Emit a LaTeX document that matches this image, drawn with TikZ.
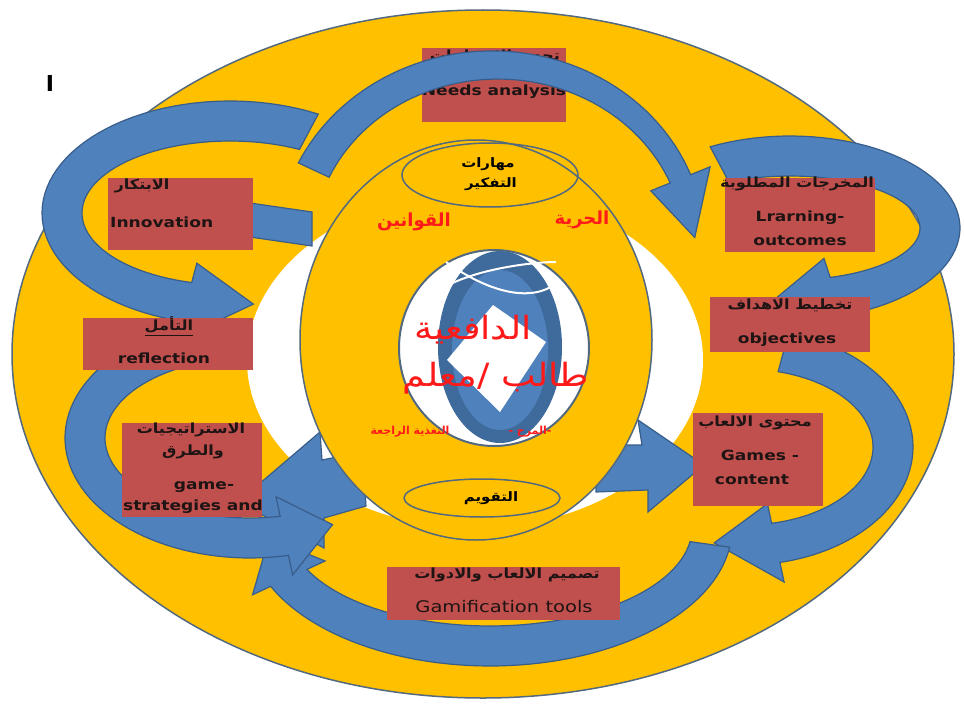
\documentclass[tikz,border=0pt]{standalone}
\usepackage{fontspec}
\setmainfont{DejaVu Sans}
\newfontfamily\ar[Script=Arabic]{DejaVu Sans}
\newfontfamily\arw[Script=Arabic,FakeStretch=1.15]{DejaVu Sans}
\newfontfamily\enw[FakeStretch=1.22]{DejaVu Sans}
\TeXXeTstate=1
\definecolor{yel}{HTML}{FFC000}
\definecolor{blu}{HTML}{4F81BD}
\definecolor{bld}{HTML}{385D8A}
\definecolor{knot}{HTML}{3F6A9C}
\definecolor{boxr}{HTML}{C0504D}
\definecolor{edge}{HTML}{53697F}
\definecolor{txt}{HTML}{1E1414}
\definecolor{redt}{HTML}{FF1A1A}
\def\hws{20}\def\hwe{20}\def\hh{40}
% cx cy rx ry t1 t2 tip ; half widths \hws (tail) \hwe (neck), head half width \hh
\newcommand{\bandarrow}[7]{%
 \filldraw[arr] plot[domain=#5:#6,samples=60] ({#1+(#3+\hws+(\hwe-\hws)*(\x-(#5))/((#6)-(#5)))*cos(\x)},{#2+(#4+\hws+(\hwe-\hws)*(\x-(#5))/((#6)-(#5)))*sin(\x)})
 -- ({#1+(#3+\hh)*cos(#6)},{#2+(#4+\hh)*sin(#6)})
 -- ({#1+#3*cos(#7)},{#2+#4*sin(#7)})
 -- ({#1+(#3-\hh)*cos(#6)},{#2+(#4-\hh)*sin(#6)})
 -- plot[domain=#6:#5,samples=60] ({#1+(#3-\hws-(\hwe-\hws)*(\x-(#5))/((#6)-(#5)))*cos(\x)},{#2+(#4-\hws-(\hwe-\hws)*(\x-(#5))/((#6)-(#5)))*sin(\x)}) -- cycle;}
\tikzset{
 arr/.style={fill=blu, draw=bld, line width=1.2pt},
 box/.style={fill=boxr, draw=none, inner sep=0pt, anchor=north west},
 en/.style={font=\enw\bfseries\fontsize{14}{16}\selectfont, text=txt, inner sep=0pt},
 art/.style={font=\arw\bfseries\fontsize{14}{16}\selectfont, text=txt, inner sep=0pt},
 redbig/.style={font=\arw\fontsize{32}{34}\selectfont, text=redt, inner sep=0pt},
 redmid/.style={font=\ar\bfseries\fontsize{18}{20}\selectfont, text=redt, inner sep=0pt},
 redsm/.style={font=\ar\bfseries\fontsize{11}{13}\selectfont, text=redt, inner sep=0pt},
 blk/.style={font=\arw\bfseries\fontsize{13}{15}\selectfont, text=black, inner sep=0pt},
}
\begin{document}
\begin{tikzpicture}[x=1pt,y=-1pt]
\useasboundingbox (0,0) rectangle (964,709);
\fill[white] (0,0) rectangle (964,709);
% outer ellipse
\filldraw[fill=yel, draw=edge, line width=1.5pt] (483,354) ellipse [x radius=471, y radius=344];
% white ring
\fill[white] (475,360) ellipse [x radius=228, y radius=168];
% inner arrows
\filldraw[arr] (250,203) -- (312,212) -- (312,246) -- (250,237) -- cycle;
\filldraw[arr] (362,452) -- (322,460) -- (320,432) -- (238,502) -- (324,548) -- (324,518) -- (366,506) -- cycle;
\filldraw[arr] (596,445) -- (642,445) -- (638,420) -- (704,465) -- (648,512) -- (648,490) -- (596,492) -- cycle;
% inner ellipse
\filldraw[fill=yel, draw=edge, line width=1.5pt] (476,340) ellipse [x radius=176, y radius=200];
\draw[edge, line width=1.5pt] (490,175) ellipse [x radius=88, y radius=32];
\draw[edge, line width=1.5pt] (482,498) ellipse [x radius=78, y radius=19];
% central circle and knot
\filldraw[fill=white, draw=edge, line width=2pt] (494,348) ellipse [x radius=95, y radius=98];
\fill[knot] (500,347) ellipse [x radius=62, y radius=96];
\fill[blu] (500,350) ellipse [x radius=48, y radius=80];
\fill[white] (493,305) -- (546,342) -- (500,412) -- (447,360) -- cycle;
\draw[white, line width=2pt] (446,262) .. controls (500,300) and (540,300) .. (560,280);
\draw[white, line width=2pt] (440,290) .. controls (470,270) and (530,262) .. (556,262);
% big curved arrows
\bandarrow{230}{213}{168}{92}{-62}{-255}{-278}
\bandarrow{790}{228}{150}{72}{-118}{72}{96}
\bandarrow{745}{447}{148}{98}{-75}{78}{102}
\bandarrow{490}{528}{222}{118}{8}{155}{175}
\bandarrow{250}{438}{165}{100}{-118}{-282}{-300}
% needs box under top arc
\node[box, minimum width=144pt, minimum height=74pt] (needs) at (422,48) {};
\node[art] (needsar) at (495,56) {\beginR تحديد الاحتياجات\endR};
\node[en] (needsen) at (494,92) {Needs analysis};
\def\hws{17}\def\hwe{11}\def\hh{32}
\bandarrow{495}{247}{200}{182}{-155}{-22}{-3}
\def\hws{20}\def\hwe{20}\def\hh{40}
% other boxes
\node[box, minimum width=145pt, minimum height=72pt] (innov) at (108,178) {};
\node[box, minimum width=150pt, minimum height=74pt] (learn) at (725,178) {};
\node[box, minimum width=170pt, minimum height=52pt] (refl) at (83,318) {};
\node[box, minimum width=160pt, minimum height=55pt] (obj) at (710,297) {};
\node[box, minimum width=140pt, minimum height=94pt] (strat) at (122,423) {};
\node[box, minimum width=130pt, minimum height=93pt] (games) at (693,413) {};
\node[box, minimum width=233pt, minimum height=53pt] (gamif) at (387,567) {};
% box texts
\node[art] (innovar) at (142,186) {\beginR الابتكار\endR};
\node[en, anchor=west] (innoven) at (110,222) {Innovation};
\node[art] (learnar) at (797,184) {\beginR المخرجات المطلوبة\endR};
\node[en] (learnen1) at (800,218) {Lrarning-};
\node[en] (learnen2) at (800,241) {outcomes};
\node[art] (reflar) at (169,325) {\beginR التأمل\endR};
\draw[txt, line width=1pt] ([yshift=-2pt]reflar.south west) -- ([yshift=-2pt]reflar.south east);
\node[en] (reflen) at (164,358) {reflection};
\node[art] (objar) at (790,305) {\beginR تخطيط الاهداف\endR};
\node[en] (objen) at (787,340) {objectives};
\node[art] (stratar1) at (191,430) {\beginR الاستراتيجيات\endR};
\node[art] (stratar2) at (193,452) {\beginR والطرق\endR};
\node[en] (straten1) at (204,487) {game-};
\node[en] (straten2) at (193,507) {strategies and};
\node[art] (gamesar) at (755,423) {\beginR محتوى الالعاب\endR};
\node[en] (gamesen1) at (760,455) {Games -};
\node[en] (gamesen2) at (752,480) {content};
\node[art] (gamifar) at (507,575) {\beginR تصميم الالعاب والادوات\endR};
\node[font=\enw\fontsize{16}{18}\selectfont, text=txt, inner sep=0pt] (gamifen) at (504,607) {Gamification tools};
% central texts
\node[blk] (skills1) at (488,164) {\beginR مهارات\endR};
\node[blk] (skills2) at (491,184) {\beginR التفكير\endR};
\node[redmid] (freedom) at (582,220) {\beginR الحرية\endR};
\node[redmid] (rules) at (414,222) {\beginR القوانين\endR};
\node[redbig] (motiv) at (473,330) {\beginR الدافعية\endR};
\node[redbig] (stud) at (496,378) {\beginR طالب /معلم\endR};
\node[redsm] (fun) at (530,432) {\beginR -المرح -\endR};
\node[redsm] (feedb) at (410,432) {\beginR التغذية الراجعة\endR};
\node[blk] (evalu) at (491,498) {\beginR التقويم\endR};
\node[font=\bfseries\fontsize{22}{22}\selectfont, inner sep=0pt] (imark) at (50,83) {I};
\end{tikzpicture}
\end{document}
